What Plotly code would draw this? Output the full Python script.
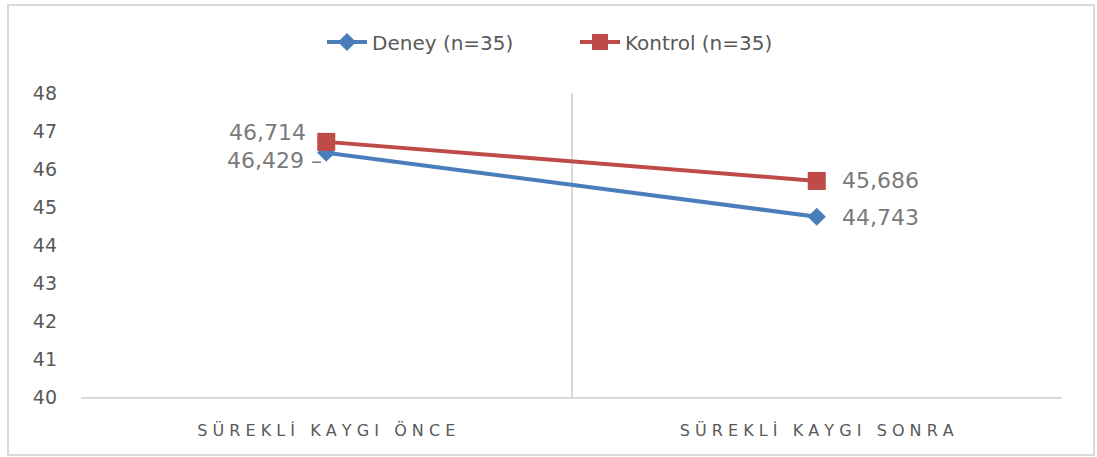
import plotly.graph_objects as go

categories = ["SÜREKLİ KAYGI ÖNCE", "SÜREKLİ KAYGI SONRA"]
deney = [46.429, 44.743]
kontrol = [46.714, 45.686]
series_names = ["Deney (n=35)", "Kontrol (n=35)"]
y_ticks = [40, 41, 42, 43, 44, 45, 46, 47, 48]


def spaced(s):
    return "   ".join(" ".join(w) for w in s.split(" "))

W, H = 1097, 457
L, R, T, B = 81, 1062, 93, 397
FONT = "DejaVu Sans, Liberation Sans, sans-serif"

fig = go.Figure()
fig.add_trace(go.Scatter(
    x=categories, y=deney, name=series_names[0], mode="lines+markers",
    line=dict(color="#4a7ebb", width=4),
    marker=dict(symbol="diamond", size=14, color="#4a7ebb"),
))
fig.add_trace(go.Scatter(
    x=categories, y=kontrol, name=series_names[1], mode="lines+markers",
    line=dict(color="#be4b48", width=4),
    marker=dict(symbol="square", size=18, color="#be4b48"),
))

lab_font = dict(family=FONT, size=22, color="#7a7a7a")

def fmt(v):
    return f"{v:.3f}".replace(".", ",")

# data labels
fig.add_annotation(x=categories[0], y=deney[0], text=fmt(deney[0]) + " –", showarrow=False,
                   xanchor="right", yanchor="middle", xshift=-2, yshift=-8, font=lab_font)
fig.add_annotation(x=categories[0], y=kontrol[0], text=fmt(kontrol[0]), showarrow=False,
                   xanchor="right", yanchor="middle", xshift=-18, yshift=9, font=lab_font)
fig.add_annotation(x=categories[1], y=deney[1], text=fmt(deney[1]), showarrow=False,
                   xanchor="left", yanchor="middle", xshift=23, yshift=-1, font=lab_font)
fig.add_annotation(x=categories[1], y=kontrol[1], text=fmt(kontrol[1]), showarrow=False,
                   xanchor="left", yanchor="middle", xshift=23, yshift=0, font=lab_font)

# outer chart border
pw, ph = R - L, B - T
fig.add_shape(type="rect", xref="paper", yref="paper",
              x0=(8 - L) / pw, x1=(1094 - L) / pw,
              y0=(B - 455) / ph, y1=(B - 5) / ph,
              line=dict(color="#d9d9d9", width=2), fillcolor="rgba(0,0,0,0)", layer="below")

fig.update_layout(
    width=W, height=H,
    margin=dict(l=L, r=W - R, t=T, b=H - B, pad=0),
    paper_bgcolor="white", plot_bgcolor="white",
    font=dict(family=FONT, color="#595959"),
    legend=dict(orientation="h", x=(330 - L - 8) / pw, xanchor="left", y=1 + 51 / ph, yanchor="middle",
                font=dict(size=20, color="#595959", family=FONT),
                itemwidth=40, tracegroupgap=0, entrywidth=198, entrywidthmode="pixels"),
    showlegend=True,
    xaxis=dict(type="category", tickson="boundaries", showgrid=True, gridcolor="#d9d9d9", gridwidth=2,
               showline=True, linecolor="#d9d9d9", linewidth=2, ticks="", zeroline=False,
               tickvals=categories, ticktext=[spaced(c) for c in categories],
               tickfont=dict(size=16, color="#595959"), ticklabelstandoff=18,
               range=[-0.5, 1.5]),
    yaxis=dict(range=[40, 48], tickvals=y_ticks, showgrid=False, zeroline=False, showline=False,
               ticks="", tickfont=dict(size=19, color="#595959"), ticklabelstandoff=23),
)

fig.write_html("out.html", config={"displayModeBar": False},
               post_script="document.body.style.margin='0';")
